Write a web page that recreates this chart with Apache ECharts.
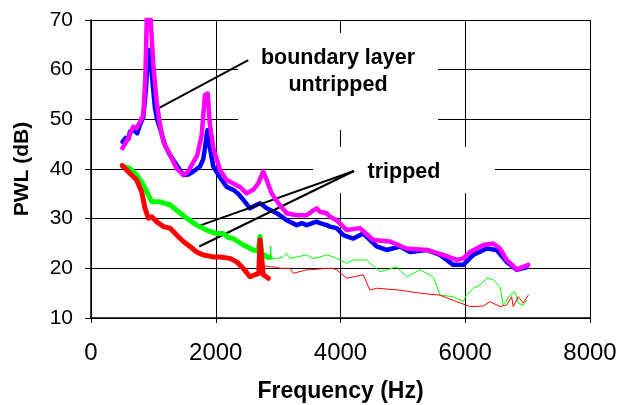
<!DOCTYPE html>
<html>
<head>
<meta charset="utf-8">
<script src="https://cdn.jsdelivr.net/npm/echarts@6/dist/echarts.min.js"></script>
<style>
  html, body { margin: 0; padding: 0; background: #fff; }
  #chart { width: 627px; height: 405px; }
</style>
</head>
<body>
<div id="chart"></div>
<script>
// [frequency Hz, PWL dB]
const untrippedBlue = [
  [505, 45.5], [560, 46.3], [600, 46.0], [625, 47.5], [700, 47.8], [740, 47.2], [785, 48.9], [840, 50.5], [880, 56], [919, 64],
  [950, 63], [990, 57], [1026, 52.2], [1060, 50], [1106, 48.2], [1186, 44.8], [1266, 42.8], [1373, 40.8],
  [1480, 38.8], [1560, 38.9], [1640, 39.5], [1747, 40.5], [1800, 42], [1827, 44.2], [1865, 47.8], [1885, 46],
  [1907, 44.2], [1961, 40.5], [2068, 38.3], [2175, 36.4], [2281, 35.8], [2360, 35.0], [2442, 33.8], [2549, 32.1], [2656, 32.8],
  [2709, 33.1], [2816, 32.1], [2977, 31.1], [3137, 29.7], [3297, 28.7], [3380, 29.1], [3457, 28.7], [3618, 29.4], [3671, 29.1],
  [3778, 28.7], [3831, 28.4], [3938, 28.1], [4045, 26.7], [4205, 26.0], [4365, 27.0], [4579, 24.4], [4739, 23.7],
  [4953, 24.4], [5114, 23.3], [5381, 23.7], [5595, 22.7], [5808, 20.7], [5968, 20.7], [6129, 22.7], [6342, 24.0],
  [6503, 23.7], [6663, 21.3], [6824, 19.7], [6984, 20.2]
]
const untrippedMagenta = [
  [505, 44.2], [598, 46.2], [640, 47.5], [678, 48.5], [730, 48.2], [785, 49.5], [839, 50.9], [870, 58], [895, 70.5], [930, 72],
  [957, 70], [999, 61], [1053, 53.5], [1106, 48.9], [1159, 45.5], [1213, 44.2], [1293, 42.2], [1373, 40.1],
  [1480, 38.8], [1560, 39.5], [1614, 40.8], [1704, 42.8], [1774, 46.8], [1827, 54.9], [1870, 55.2], [1907, 48.9],
  [1961, 44.2], [2068, 39.8], [2175, 37.8], [2281, 37.1], [2388, 36.4], [2495, 35.1], [2602, 35.8], [2682, 37.1],
  [2762, 39.5], [2816, 37.8], [2896, 35.1], [3003, 33.1], [3137, 31.1], [3297, 30.7], [3457, 30.7], [3618, 32.1],
  [3671, 31.4], [3778, 31.1], [3831, 30.4], [3938, 29.7], [4099, 27.7], [4312, 28.1], [4525, 25.7], [4793, 25.4],
  [5060, 24.0], [5381, 23.7], [5648, 22.7], [5862, 21.7], [5968, 22.0], [6075, 23.3], [6289, 24.7], [6449, 25.0],
  [6556, 24.0], [6663, 21.7], [6824, 19.8], [6930, 20.3], [7010, 20.7]
]
const trippedGreenThick = [
  [518, 40.5], [625, 40.1], [732, 38.8], [839, 36.8], [919, 34.8], [972, 33.4], [1106, 33.4], [1266, 32.8],
  [1373, 31.7], [1533, 30.1], [1694, 28.7], [1854, 27.7], [2014, 27.0], [2121, 27.0], [2200, 26.2], [2281, 26.0], [2442, 24.7],
  [2602, 23.7], [2680, 23.5], [2709, 26.4], [2740, 23], [2816, 22.3], [2870, 22.2]
]
const trippedGreenThin = [
  [2870, 22.2], [2880, 24.5], [2890, 22], [2977, 22.0], [3083, 22.3], [3137, 23.0], [3190, 22.0], [3300, 22.3],
  [3457, 22.7], [3560, 22.0], [3671, 22.3], [3778, 22.7], [3884, 22.3], [3938, 22.0], [4099, 21.0], [4205, 21.7],
  [4419, 21.7], [4632, 19.3], [4900, 20.3], [5060, 18.3], [5274, 19.7], [5488, 18.3], [5595, 14.6], [5808, 14.3],
  [5968, 13.3], [6022, 14.6], [6129, 16.0], [6236, 16.6], [6342, 18.0], [6449, 17.7], [6556, 16.3], [6610, 12.6],
  [6717, 14.6], [6797, 15.3], [6850, 13.0], [6930, 12.6], [6984, 13.6]
]
const trippedRedThick = [
  [500, 40.7], [518, 40.5], [625, 39.1], [732, 37.8], [812, 35.4], [866, 32.1], [919, 30.1], [972, 30.4],
  [1053, 29.4], [1159, 28.4], [1266, 28.1], [1373, 26.7], [1480, 25.4], [1587, 24.4], [1694, 23.3], [1800, 22.7],
  [1961, 22.3], [2068, 22.3], [2228, 22.0], [2335, 21.3], [2442, 20.0], [2549, 18.3], [2629, 18.7], [2690, 19],
  [2709, 25.7], [2735, 25.5], [2762, 18.7], [2843, 18.0]
]
const trippedRedThin = [
  [2762, 20.5], [2896, 20.3], [2977, 20.2], [3030, 20.0], [3190, 20.0], [3243, 19.0], [3457, 19.7], [3510, 19.7],
  [3778, 20.0], [3884, 20.0], [3938, 19.7], [4099, 18.0], [4365, 18.7], [4472, 15.6], [4579, 16.0], [4953, 15.6],
  [5274, 15.0], [5595, 14.6], [5862, 13.3], [6075, 12.3], [6289, 12.4], [6396, 13.3], [6556, 12.3], [6663, 12.6],
  [6743, 14.3], [6770, 12.3], [6850, 14.3], [6930, 13.0], [7010, 14.6]
]

// leader lines for the annotations, in data coords
const untrippedPointer = [[[2522, 61.9], [1079, 52.2]]]
const trippedPointers = [[[4216, 39.6], [1720, 28.5]], [[4216, 39.6], [1736, 24.4]]]

const FONT = '"Liberation Sans", Arial, sans-serif'

const lineSeries = (name, data, color, width, z, pointers) => ({
  name,
  type: 'line',
  data,
  z,
  symbol: 'none',
  lineStyle: { color, width, join: 'round', cap: 'round' },
  markLine: pointers ? {
    silent: true,
    symbol: 'none',
    animation: false,
    label: { show: false },
    lineStyle: { color: '#000', width: 2, type: 'solid' },
    emphasis: { disabled: true },
    data: pointers.map(p => [{ coord: p[0] }, { coord: p[1] }])
  } : undefined
})

const chart = echarts.init(document.getElementById('chart'))
chart.setOption({
  animation: false,
  grid: { left: 91, right: 37, top: 20, bottom: 87, outerBoundsMode: 'none' },
  xAxis: {
    type: 'value',
    min: 0,
    max: 8000,
    interval: 2000,
    name: 'Frequency (Hz)',
    nameLocation: 'middle',
    nameGap: 62,
    nameTextStyle: { fontFamily: FONT, fontSize: 23, fontWeight: 'bold', color: '#000' },
    axisLine: { lineStyle: { color: '#000', width: 1.5 } },
    axisTick: { show: true, length: 5, lineStyle: { color: '#000' } },
    axisLabel: { margin: 23, fontFamily: FONT, fontSize: 24, color: '#000', formatter: v => String(v) },
    splitLine: { show: true, lineStyle: { color: '#000', width: 1 } }
  },
  yAxis: {
    type: 'value',
    min: 10,
    max: 70,
    interval: 10,
    name: 'PWL (dB)',
    nameLocation: 'middle',
    nameGap: 58,
    nameTextStyle: { fontFamily: FONT, fontSize: 21, fontWeight: 'bold', color: '#000' },
    axisLine: { show: true, lineStyle: { color: '#000', width: 1.5 } },
    axisTick: { show: true, length: 6, lineStyle: { color: '#000' } },
    axisLabel: { margin: 18, fontFamily: FONT, fontSize: 21, color: '#000' },
    splitLine: { show: true, lineStyle: { color: '#000', width: 1 } }
  },
  // white label boxes hide the grid behind the annotation text
  graphic: [
    { type: 'rect', z: 1, shape: { x: 238, y: 33, width: 200, height: 97 }, style: { fill: '#fff' } },
    { type: 'rect', z: 1, shape: { x: 313, y: 147, width: 182, height: 46 }, style: { fill: '#fff' } },
    {
      type: 'text', z: 10, x: 338, y: 72,
      style: { text: 'boundary layer\nuntripped', fill: '#000', font: 'bold 21.5px ' + FONT, align: 'center', verticalAlign: 'middle', lineHeight: 27 }
    },
    {
      type: 'text', z: 10, x: 404, y: 172,
      style: { text: 'tripped', fill: '#000', font: 'bold 21.5px ' + FONT, align: 'center', verticalAlign: 'middle' }
    }
  ],
  series: [
    lineSeries('tripped thin green', trippedGreenThin, '#00ff00', 1, 3),
    lineSeries('tripped thin red', trippedRedThin, '#ff0000', 1, 3),
    lineSeries('untripped blue', untrippedBlue, '#0000ff', 4.5, 4),
    lineSeries('untripped magenta', untrippedMagenta, '#ff00ff', 4.5, 5, untrippedPointer),
    lineSeries('tripped green', trippedGreenThick, '#00ff00', 5, 6, trippedPointers),
    lineSeries('tripped red', trippedRedThick, '#ff0000', 5, 7)
  ]
})
</script>
</body>
</html>
